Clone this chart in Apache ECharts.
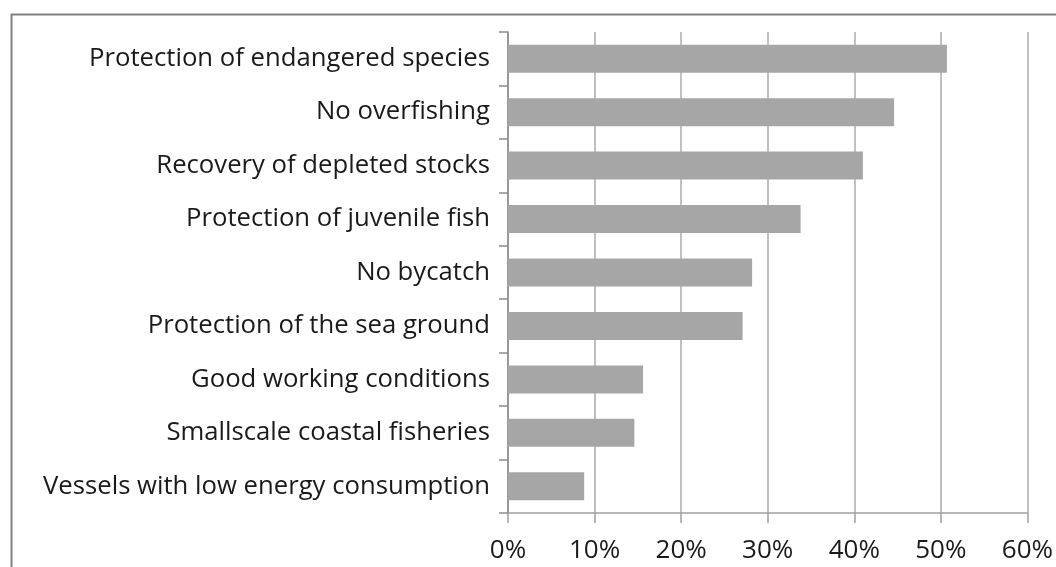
<!DOCTYPE html>
<html>
<head>
<meta charset="utf-8">
<script src="https://cdn.jsdelivr.net/npm/echarts@6/dist/echarts.min.js"></script>
<style>
  html, body { margin: 0; padding: 0; background: #fff; }
  #chart { width: 1056px; height: 567px; }
</style>
</head>
<body>
<div id="chart"></div>
<script>
// categories, top to bottom
var categories = [
  'Protection of endangered species',
  'No overfishing',
  'Recovery of depleted stocks',
  'Protection of juvenile fish',
  'No bycatch',
  'Protection of the sea ground',
  'Good working conditions',
  'Smallscale coastal fisheries',
  'Vessels with low energy consumption'
]

// share of answers, in percent
var shares = [50.7, 44.6, 41.0, 33.8, 28.2, 27.1, 15.6, 14.6, 8.8]

var xMin = 0
var xMax = 60
var xStep = 10

var labelFont = '"Open Sans", "Noto Sans", sans-serif'

var myChart = echarts.init(document.getElementById('chart'))

var option = {
  animation: false,
  backgroundColor: '#fff',
  grid: {
    left: 508,
    right: 28,
    top: 32,
    bottom: 54
  },
  xAxis: {
    type: 'value',
    min: xMin,
    max: xMax,
    interval: xStep,
    axisLine: { show: true, lineStyle: { color: '#a0a0a0', width: 1.5 } },
    axisTick: { show: true, length: 10, lineStyle: { color: '#a0a0a0', width: 1.5 } },
    splitLine: { show: true, lineStyle: { color: '#ababab', width: 1.5 } },
    axisLabel: {
      formatter: '{value}%',
      fontSize: 26,
      color: '#1a1a1a',
      fontFamily: labelFont,
      margin: 25
    }
  },
  yAxis: {
    type: 'category',
    data: categories,
    inverse: true,
    axisLine: { show: true, lineStyle: { color: '#8c8c8c', width: 1.5 } },
    axisTick: { show: true, length: 9, lineStyle: { color: '#8c8c8c', width: 1.5 } },
    axisLabel: {
      fontSize: 25.7,
      color: '#1a1a1a',
      fontFamily: labelFont,
      margin: 18
    }
  },
  series: [{
    type: 'bar',
    data: shares,
    barWidth: 28,
    itemStyle: { color: '#a6a6a6' }
  }],
  graphic: [{
    type: 'rect',
    left: 9,
    top: 12,
    shape: { width: 1200, height: 700 },
    style: { fill: 'none', stroke: '#808080', lineWidth: 2 }
  }]
}

myChart.setOption(option)
</script>
</body>
</html>
